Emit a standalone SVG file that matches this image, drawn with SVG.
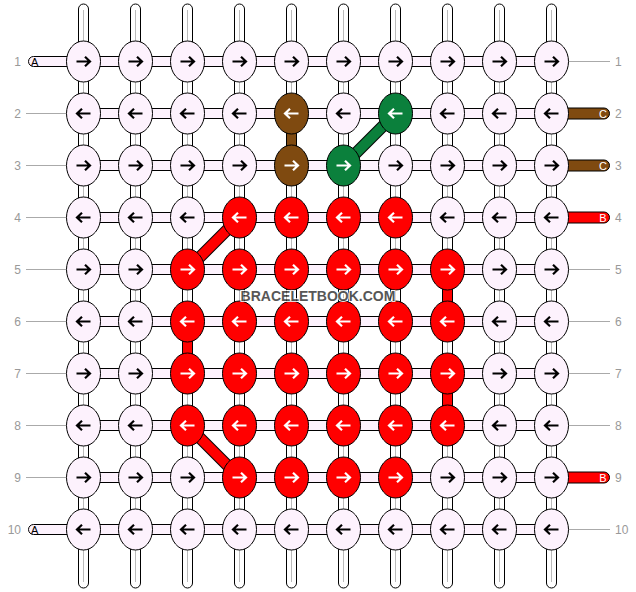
<svg xmlns="http://www.w3.org/2000/svg" xmlns:xlink="http://www.w3.org/1999/xlink" width="636" height="592" viewBox="0 0 636 592">
<style>
.bg{fill:#fff}
.vt{fill:#fff;stroke:#000;stroke-width:1}
.vg{stroke:#bbb;stroke-width:1}
.ht{fill:#fdf2fd;stroke:#000;stroke-width:1}
.gl{stroke:#aaa;stroke-width:1}
.lbl{font-family:"Liberation Sans",Arial,sans-serif;font-size:12px;fill:#999}
.sl{font-family:"Liberation Sans",Arial,sans-serif;font-size:11px}
ellipse{stroke:#000;stroke-width:1}
g use{fill:none;stroke-width:2.2}
.kp ellipse{fill:#fdf2fd}.kp use{stroke:#000}
.kr ellipse{fill:#ff0000}.kr use{stroke:#fff}
.kb ellipse{fill:#7f4a10}.kb use{stroke:#fff}
.kg ellipse{fill:#0b803c}.kg use{stroke:#fff}
.wm{font-family:"Liberation Sans",Arial,sans-serif;font-size:14px;font-weight:bold;fill:#3a3a3a;stroke:#fff;stroke-width:2;paint-order:stroke;opacity:0.85}
</style>
<defs>
<path id="R" d="M-7,0H6.5M1.5,-4.8L6.5,0L1.5,4.8"/>
<path id="L" d="M7,0H-6.5M-1.5,-4.8L-6.5,0L-1.5,4.8"/>
</defs>
<rect class="bg" x="0" y="0" width="636" height="592"/>
<g id="connectors">
<g id="warps">
<rect class="vt" x="78.5" y="4" width="10" height="584" rx="5"/><line class="vg" x1="83.5" y1="10" x2="83.5" y2="582"/>
<rect class="vt" x="130.5" y="4" width="10" height="584" rx="5"/><line class="vg" x1="135.5" y1="10" x2="135.5" y2="582"/>
<rect class="vt" x="182.5" y="4" width="10" height="584" rx="5"/><line class="vg" x1="187.5" y1="10" x2="187.5" y2="582"/>
<rect class="vt" x="234.5" y="4" width="10" height="584" rx="5"/><line class="vg" x1="239.5" y1="10" x2="239.5" y2="582"/>
<rect class="vt" x="286.5" y="4" width="10" height="584" rx="5"/><line class="vg" x1="291.5" y1="10" x2="291.5" y2="582"/>
<rect class="vt" x="338.5" y="4" width="10" height="584" rx="5"/><line class="vg" x1="343.5" y1="10" x2="343.5" y2="582"/>
<rect class="vt" x="390.5" y="4" width="10" height="584" rx="5"/><line class="vg" x1="395.5" y1="10" x2="395.5" y2="582"/>
<rect class="vt" x="442.5" y="4" width="10" height="584" rx="5"/><line class="vg" x1="447.5" y1="10" x2="447.5" y2="582"/>
<rect class="vt" x="494.5" y="4" width="10" height="584" rx="5"/><line class="vg" x1="499.5" y1="10" x2="499.5" y2="582"/>
<rect class="vt" x="546.5" y="4" width="10" height="584" rx="5"/><line class="vg" x1="551.5" y1="10" x2="551.5" y2="582"/>
</g>
<g id="rows">
<rect class="ht" x="83.5" y="56.5" width="468" height="10"/>
<rect class="ht" x="83.5" y="108.5" width="468" height="10"/>
<rect class="ht" x="83.5" y="160.5" width="468" height="10"/>
<rect class="ht" x="83.5" y="212.5" width="468" height="10"/>
<rect class="ht" x="83.5" y="264.5" width="468" height="10"/>
<rect class="ht" x="83.5" y="316.5" width="468" height="10"/>
<rect class="ht" x="83.5" y="368.5" width="468" height="10"/>
<rect class="ht" x="83.5" y="420.5" width="468" height="10"/>
<rect class="ht" x="83.5" y="472.5" width="468" height="10"/>
<rect class="ht" x="83.5" y="524.5" width="468" height="10"/>
</g>
<g id="colored">
<rect x="286.5" y="128" width="10" height="23" fill="#7f4a10" stroke="#000"/>
<rect x="442.5" y="284" width="10" height="23" fill="#ff0000" stroke="#000"/>
<rect x="442.5" y="388" width="10" height="23" fill="#ff0000" stroke="#000"/>
<rect x="182.5" y="336" width="10" height="23" fill="#ff0000" stroke="#000"/>
<line x1="395.5" y1="113.5" x2="343.5" y2="165.5" stroke="#000" stroke-width="12"/>
<line x1="395.5" y1="113.5" x2="343.5" y2="165.5" stroke="#0b803c" stroke-width="10"/>
<line x1="239.5" y1="217.5" x2="187.5" y2="269.5" stroke="#000" stroke-width="12"/>
<line x1="239.5" y1="217.5" x2="187.5" y2="269.5" stroke="#ff0000" stroke-width="10"/>
<line x1="187.5" y1="425.5" x2="239.5" y2="477.5" stroke="#000" stroke-width="12"/>
<line x1="187.5" y1="425.5" x2="239.5" y2="477.5" stroke="#ff0000" stroke-width="10"/>
</g>
<g id="sides">
<rect x="28.5" y="56.5" width="50" height="10" rx="5" fill="#fdf2fd" stroke="#000"/>
<text class="sl" x="31" y="65.5" fill="#000">A</text>
<rect x="28.5" y="524.5" width="50" height="10" rx="5" fill="#fdf2fd" stroke="#000"/>
<text class="sl" x="31" y="533.5" fill="#000">A</text>
<line class="gl" x1="26" y1="113.5" x2="66" y2="113.5"/>
<line class="gl" x1="26" y1="165.5" x2="66" y2="165.5"/>
<line class="gl" x1="26" y1="217.5" x2="66" y2="217.5"/>
<line class="gl" x1="26" y1="269.5" x2="66" y2="269.5"/>
<line class="gl" x1="26" y1="321.5" x2="66" y2="321.5"/>
<line class="gl" x1="26" y1="373.5" x2="66" y2="373.5"/>
<line class="gl" x1="26" y1="425.5" x2="66" y2="425.5"/>
<line class="gl" x1="26" y1="477.5" x2="66" y2="477.5"/>
<line class="gl" x1="569" y1="61.5" x2="610" y2="61.5"/>
<rect x="556.5" y="108" width="53" height="11" rx="5.5" fill="#7f4a10" stroke="#000"/>
<text class="sl" x="603" y="117.5" fill="#fff" text-anchor="middle">C</text>
<rect x="556.5" y="160" width="53" height="11" rx="5.5" fill="#7f4a10" stroke="#000"/>
<text class="sl" x="603" y="169.5" fill="#fff" text-anchor="middle">C</text>
<rect x="556.5" y="212" width="53" height="11" rx="5.5" fill="#ff0000" stroke="#000"/>
<text class="sl" x="603" y="221.5" fill="#fff" text-anchor="middle">B</text>
<line class="gl" x1="569" y1="269.5" x2="610" y2="269.5"/>
<line class="gl" x1="569" y1="321.5" x2="610" y2="321.5"/>
<line class="gl" x1="569" y1="373.5" x2="610" y2="373.5"/>
<line class="gl" x1="569" y1="425.5" x2="610" y2="425.5"/>
<rect x="556.5" y="472" width="53" height="11" rx="5.5" fill="#ff0000" stroke="#000"/>
<text class="sl" x="603" y="481.5" fill="#fff" text-anchor="middle">B</text>
<line class="gl" x1="569" y1="529.5" x2="610" y2="529.5"/>
</g>
</g>
<g id="knots">
<g id="k1-1" class="kp" transform="translate(83.5,61.5)"><ellipse rx="17" ry="20.5"/><use href="#R"/></g>
<g id="k1-2" class="kp" transform="translate(135.5,61.5)"><ellipse rx="17" ry="20.5"/><use href="#R"/></g>
<g id="k1-3" class="kp" transform="translate(187.5,61.5)"><ellipse rx="17" ry="20.5"/><use href="#R"/></g>
<g id="k1-4" class="kp" transform="translate(239.5,61.5)"><ellipse rx="17" ry="20.5"/><use href="#R"/></g>
<g id="k1-5" class="kp" transform="translate(291.5,61.5)"><ellipse rx="17" ry="20.5"/><use href="#R"/></g>
<g id="k1-6" class="kp" transform="translate(343.5,61.5)"><ellipse rx="17" ry="20.5"/><use href="#R"/></g>
<g id="k1-7" class="kp" transform="translate(395.5,61.5)"><ellipse rx="17" ry="20.5"/><use href="#R"/></g>
<g id="k1-8" class="kp" transform="translate(447.5,61.5)"><ellipse rx="17" ry="20.5"/><use href="#R"/></g>
<g id="k1-9" class="kp" transform="translate(499.5,61.5)"><ellipse rx="17" ry="20.5"/><use href="#R"/></g>
<g id="k1-10" class="kp" transform="translate(551.5,61.5)"><ellipse rx="17" ry="20.5"/><use href="#R"/></g>

<g id="k2-1" class="kp" transform="translate(83.5,113.5)"><ellipse rx="17" ry="20.5"/><use href="#L"/></g>
<g id="k2-2" class="kp" transform="translate(135.5,113.5)"><ellipse rx="17" ry="20.5"/><use href="#L"/></g>
<g id="k2-3" class="kp" transform="translate(187.5,113.5)"><ellipse rx="17" ry="20.5"/><use href="#L"/></g>
<g id="k2-4" class="kp" transform="translate(239.5,113.5)"><ellipse rx="17" ry="20.5"/><use href="#L"/></g>
<g id="k2-5" class="kb" transform="translate(291.5,113.5)"><ellipse rx="17" ry="20.5"/><use href="#L"/></g>
<g id="k2-6" class="kp" transform="translate(343.5,113.5)"><ellipse rx="17" ry="20.5"/><use href="#L"/></g>
<g id="k2-7" class="kg" transform="translate(395.5,113.5)"><ellipse rx="17" ry="20.5"/><use href="#L"/></g>
<g id="k2-8" class="kp" transform="translate(447.5,113.5)"><ellipse rx="17" ry="20.5"/><use href="#L"/></g>
<g id="k2-9" class="kp" transform="translate(499.5,113.5)"><ellipse rx="17" ry="20.5"/><use href="#L"/></g>
<g id="k2-10" class="kp" transform="translate(551.5,113.5)"><ellipse rx="17" ry="20.5"/><use href="#L"/></g>

<g id="k3-1" class="kp" transform="translate(83.5,165.5)"><ellipse rx="17" ry="20.5"/><use href="#R"/></g>
<g id="k3-2" class="kp" transform="translate(135.5,165.5)"><ellipse rx="17" ry="20.5"/><use href="#R"/></g>
<g id="k3-3" class="kp" transform="translate(187.5,165.5)"><ellipse rx="17" ry="20.5"/><use href="#R"/></g>
<g id="k3-4" class="kp" transform="translate(239.5,165.5)"><ellipse rx="17" ry="20.5"/><use href="#R"/></g>
<g id="k3-5" class="kb" transform="translate(291.5,165.5)"><ellipse rx="17" ry="20.5"/><use href="#R"/></g>
<g id="k3-6" class="kg" transform="translate(343.5,165.5)"><ellipse rx="17" ry="20.5"/><use href="#R"/></g>
<g id="k3-7" class="kp" transform="translate(395.5,165.5)"><ellipse rx="17" ry="20.5"/><use href="#R"/></g>
<g id="k3-8" class="kp" transform="translate(447.5,165.5)"><ellipse rx="17" ry="20.5"/><use href="#R"/></g>
<g id="k3-9" class="kp" transform="translate(499.5,165.5)"><ellipse rx="17" ry="20.5"/><use href="#R"/></g>
<g id="k3-10" class="kp" transform="translate(551.5,165.5)"><ellipse rx="17" ry="20.5"/><use href="#R"/></g>

<g id="k4-1" class="kp" transform="translate(83.5,217.5)"><ellipse rx="17" ry="20.5"/><use href="#L"/></g>
<g id="k4-2" class="kp" transform="translate(135.5,217.5)"><ellipse rx="17" ry="20.5"/><use href="#L"/></g>
<g id="k4-3" class="kp" transform="translate(187.5,217.5)"><ellipse rx="17" ry="20.5"/><use href="#L"/></g>
<g id="k4-4" class="kr" transform="translate(239.5,217.5)"><ellipse rx="17" ry="20.5"/><use href="#L"/></g>
<g id="k4-5" class="kr" transform="translate(291.5,217.5)"><ellipse rx="17" ry="20.5"/><use href="#L"/></g>
<g id="k4-6" class="kr" transform="translate(343.5,217.5)"><ellipse rx="17" ry="20.5"/><use href="#L"/></g>
<g id="k4-7" class="kr" transform="translate(395.5,217.5)"><ellipse rx="17" ry="20.5"/><use href="#L"/></g>
<g id="k4-8" class="kp" transform="translate(447.5,217.5)"><ellipse rx="17" ry="20.5"/><use href="#L"/></g>
<g id="k4-9" class="kp" transform="translate(499.5,217.5)"><ellipse rx="17" ry="20.5"/><use href="#L"/></g>
<g id="k4-10" class="kp" transform="translate(551.5,217.5)"><ellipse rx="17" ry="20.5"/><use href="#L"/></g>

<g id="k5-1" class="kp" transform="translate(83.5,269.5)"><ellipse rx="17" ry="20.5"/><use href="#R"/></g>
<g id="k5-2" class="kp" transform="translate(135.5,269.5)"><ellipse rx="17" ry="20.5"/><use href="#R"/></g>
<g id="k5-3" class="kr" transform="translate(187.5,269.5)"><ellipse rx="17" ry="20.5"/><use href="#R"/></g>
<g id="k5-4" class="kr" transform="translate(239.5,269.5)"><ellipse rx="17" ry="20.5"/><use href="#R"/></g>
<g id="k5-5" class="kr" transform="translate(291.5,269.5)"><ellipse rx="17" ry="20.5"/><use href="#R"/></g>
<g id="k5-6" class="kr" transform="translate(343.5,269.5)"><ellipse rx="17" ry="20.5"/><use href="#R"/></g>
<g id="k5-7" class="kr" transform="translate(395.5,269.5)"><ellipse rx="17" ry="20.5"/><use href="#R"/></g>
<g id="k5-8" class="kr" transform="translate(447.5,269.5)"><ellipse rx="17" ry="20.5"/><use href="#R"/></g>
<g id="k5-9" class="kp" transform="translate(499.5,269.5)"><ellipse rx="17" ry="20.5"/><use href="#R"/></g>
<g id="k5-10" class="kp" transform="translate(551.5,269.5)"><ellipse rx="17" ry="20.5"/><use href="#R"/></g>

<g id="k6-1" class="kp" transform="translate(83.5,321.5)"><ellipse rx="17" ry="20.5"/><use href="#L"/></g>
<g id="k6-2" class="kp" transform="translate(135.5,321.5)"><ellipse rx="17" ry="20.5"/><use href="#L"/></g>
<g id="k6-3" class="kr" transform="translate(187.5,321.5)"><ellipse rx="17" ry="20.5"/><use href="#L"/></g>
<g id="k6-4" class="kr" transform="translate(239.5,321.5)"><ellipse rx="17" ry="20.5"/><use href="#L"/></g>
<g id="k6-5" class="kr" transform="translate(291.5,321.5)"><ellipse rx="17" ry="20.5"/><use href="#L"/></g>
<g id="k6-6" class="kr" transform="translate(343.5,321.5)"><ellipse rx="17" ry="20.5"/><use href="#L"/></g>
<g id="k6-7" class="kr" transform="translate(395.5,321.5)"><ellipse rx="17" ry="20.5"/><use href="#L"/></g>
<g id="k6-8" class="kr" transform="translate(447.5,321.5)"><ellipse rx="17" ry="20.5"/><use href="#L"/></g>
<g id="k6-9" class="kp" transform="translate(499.5,321.5)"><ellipse rx="17" ry="20.5"/><use href="#L"/></g>
<g id="k6-10" class="kp" transform="translate(551.5,321.5)"><ellipse rx="17" ry="20.5"/><use href="#L"/></g>

<g id="k7-1" class="kp" transform="translate(83.5,373.5)"><ellipse rx="17" ry="20.5"/><use href="#R"/></g>
<g id="k7-2" class="kp" transform="translate(135.5,373.5)"><ellipse rx="17" ry="20.5"/><use href="#R"/></g>
<g id="k7-3" class="kr" transform="translate(187.5,373.5)"><ellipse rx="17" ry="20.5"/><use href="#R"/></g>
<g id="k7-4" class="kr" transform="translate(239.5,373.5)"><ellipse rx="17" ry="20.5"/><use href="#R"/></g>
<g id="k7-5" class="kr" transform="translate(291.5,373.5)"><ellipse rx="17" ry="20.5"/><use href="#R"/></g>
<g id="k7-6" class="kr" transform="translate(343.5,373.5)"><ellipse rx="17" ry="20.5"/><use href="#R"/></g>
<g id="k7-7" class="kr" transform="translate(395.5,373.5)"><ellipse rx="17" ry="20.5"/><use href="#R"/></g>
<g id="k7-8" class="kr" transform="translate(447.5,373.5)"><ellipse rx="17" ry="20.5"/><use href="#R"/></g>
<g id="k7-9" class="kp" transform="translate(499.5,373.5)"><ellipse rx="17" ry="20.5"/><use href="#R"/></g>
<g id="k7-10" class="kp" transform="translate(551.5,373.5)"><ellipse rx="17" ry="20.5"/><use href="#R"/></g>

<g id="k8-1" class="kp" transform="translate(83.5,425.5)"><ellipse rx="17" ry="20.5"/><use href="#L"/></g>
<g id="k8-2" class="kp" transform="translate(135.5,425.5)"><ellipse rx="17" ry="20.5"/><use href="#L"/></g>
<g id="k8-3" class="kr" transform="translate(187.5,425.5)"><ellipse rx="17" ry="20.5"/><use href="#L"/></g>
<g id="k8-4" class="kr" transform="translate(239.5,425.5)"><ellipse rx="17" ry="20.5"/><use href="#L"/></g>
<g id="k8-5" class="kr" transform="translate(291.5,425.5)"><ellipse rx="17" ry="20.5"/><use href="#L"/></g>
<g id="k8-6" class="kr" transform="translate(343.5,425.5)"><ellipse rx="17" ry="20.5"/><use href="#L"/></g>
<g id="k8-7" class="kr" transform="translate(395.5,425.5)"><ellipse rx="17" ry="20.5"/><use href="#L"/></g>
<g id="k8-8" class="kr" transform="translate(447.5,425.5)"><ellipse rx="17" ry="20.5"/><use href="#L"/></g>
<g id="k8-9" class="kp" transform="translate(499.5,425.5)"><ellipse rx="17" ry="20.5"/><use href="#L"/></g>
<g id="k8-10" class="kp" transform="translate(551.5,425.5)"><ellipse rx="17" ry="20.5"/><use href="#L"/></g>

<g id="k9-1" class="kp" transform="translate(83.5,477.5)"><ellipse rx="17" ry="20.5"/><use href="#R"/></g>
<g id="k9-2" class="kp" transform="translate(135.5,477.5)"><ellipse rx="17" ry="20.5"/><use href="#R"/></g>
<g id="k9-3" class="kp" transform="translate(187.5,477.5)"><ellipse rx="17" ry="20.5"/><use href="#R"/></g>
<g id="k9-4" class="kr" transform="translate(239.5,477.5)"><ellipse rx="17" ry="20.5"/><use href="#R"/></g>
<g id="k9-5" class="kr" transform="translate(291.5,477.5)"><ellipse rx="17" ry="20.5"/><use href="#R"/></g>
<g id="k9-6" class="kr" transform="translate(343.5,477.5)"><ellipse rx="17" ry="20.5"/><use href="#R"/></g>
<g id="k9-7" class="kr" transform="translate(395.5,477.5)"><ellipse rx="17" ry="20.5"/><use href="#R"/></g>
<g id="k9-8" class="kp" transform="translate(447.5,477.5)"><ellipse rx="17" ry="20.5"/><use href="#R"/></g>
<g id="k9-9" class="kp" transform="translate(499.5,477.5)"><ellipse rx="17" ry="20.5"/><use href="#R"/></g>
<g id="k9-10" class="kp" transform="translate(551.5,477.5)"><ellipse rx="17" ry="20.5"/><use href="#R"/></g>

<g id="k10-1" class="kp" transform="translate(83.5,529.5)"><ellipse rx="17" ry="20.5"/><use href="#L"/></g>
<g id="k10-2" class="kp" transform="translate(135.5,529.5)"><ellipse rx="17" ry="20.5"/><use href="#L"/></g>
<g id="k10-3" class="kp" transform="translate(187.5,529.5)"><ellipse rx="17" ry="20.5"/><use href="#L"/></g>
<g id="k10-4" class="kp" transform="translate(239.5,529.5)"><ellipse rx="17" ry="20.5"/><use href="#L"/></g>
<g id="k10-5" class="kp" transform="translate(291.5,529.5)"><ellipse rx="17" ry="20.5"/><use href="#L"/></g>
<g id="k10-6" class="kp" transform="translate(343.5,529.5)"><ellipse rx="17" ry="20.5"/><use href="#L"/></g>
<g id="k10-7" class="kp" transform="translate(395.5,529.5)"><ellipse rx="17" ry="20.5"/><use href="#L"/></g>
<g id="k10-8" class="kp" transform="translate(447.5,529.5)"><ellipse rx="17" ry="20.5"/><use href="#L"/></g>
<g id="k10-9" class="kp" transform="translate(499.5,529.5)"><ellipse rx="17" ry="20.5"/><use href="#L"/></g>
<g id="k10-10" class="kp" transform="translate(551.5,529.5)"><ellipse rx="17" ry="20.5"/><use href="#L"/></g>
</g>
<g id="labels">
<text class="lbl" x="21" y="66" text-anchor="end">1</text>
<text class="lbl" x="21" y="118" text-anchor="end">2</text>
<text class="lbl" x="21" y="170" text-anchor="end">3</text>
<text class="lbl" x="21" y="222" text-anchor="end">4</text>
<text class="lbl" x="21" y="274" text-anchor="end">5</text>
<text class="lbl" x="21" y="326" text-anchor="end">6</text>
<text class="lbl" x="21" y="378" text-anchor="end">7</text>
<text class="lbl" x="21" y="430" text-anchor="end">8</text>
<text class="lbl" x="21" y="482" text-anchor="end">9</text>
<text class="lbl" x="21" y="534" text-anchor="end">10</text>
<text class="lbl" x="615" y="66">1</text>
<text class="lbl" x="615" y="118">2</text>
<text class="lbl" x="615" y="170">3</text>
<text class="lbl" x="615" y="222">4</text>
<text class="lbl" x="615" y="274">5</text>
<text class="lbl" x="615" y="326">6</text>
<text class="lbl" x="615" y="378">7</text>
<text class="lbl" x="615" y="430">8</text>
<text class="lbl" x="615" y="482">9</text>
<text class="lbl" x="615" y="534">10</text>
</g>
<text class="wm" x="318" y="301" text-anchor="middle">BRACELETBOOK.COM</text>
</svg>
